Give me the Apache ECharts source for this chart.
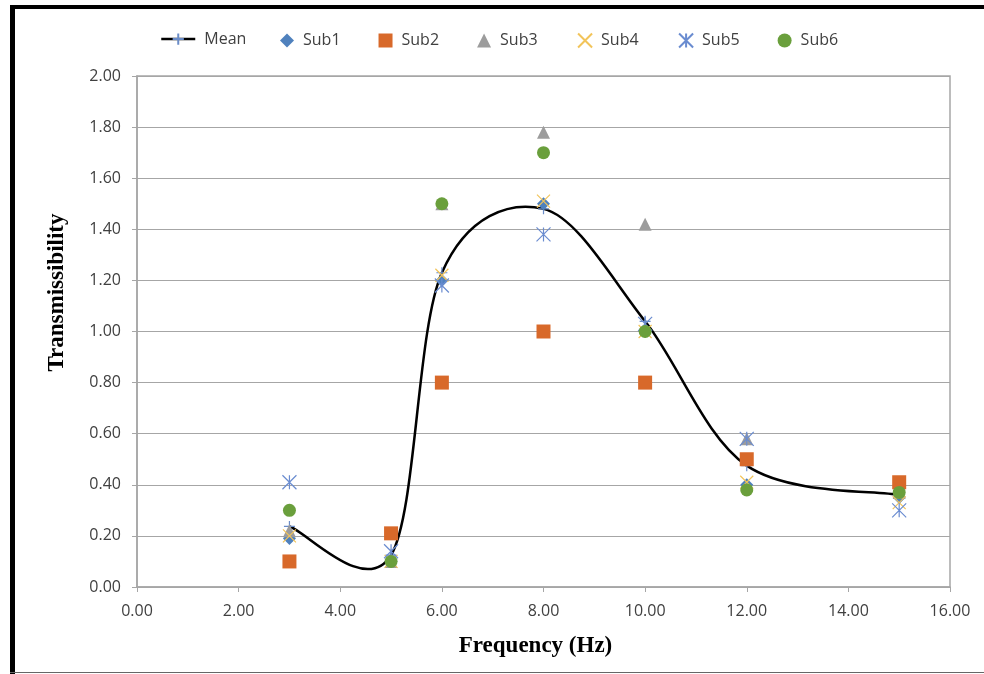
<!DOCTYPE html>
<html>
<head>
<meta charset="utf-8">
<title>Transmissibility vs Frequency</title>
<script src="https://cdn.jsdelivr.net/npm/echarts@6/dist/echarts.min.js"></script>
<style>
  html, body { margin: 0; padding: 0; background: #fff; }
  #main { width: 984px; height: 674px; }
</style>
</head>
<body>
<div id="main"></div>
<script>
// frequencies (Hz) where each subject was measured
const freq = [3, 5, 6, 8, 10, 12, 15];

const mean = [0.237, 0.125, 1.23, 1.48, 1.04, 0.475, 0.36];
const sub1 = [0.19, 0.10, 1.20, 1.50, 1.00, 0.40, 0.35];
const sub2 = [0.10, 0.21, 0.80, 1.00, 0.80, 0.50, 0.41];
const sub3 = [0.22, 0.10, 1.50, 1.78, 1.42, 0.58, 0.37];
const sub4 = [0.20, 0.10, 1.22, 1.51, 1.00, 0.41, 0.33];
const sub5 = [0.41, 0.14, 1.18, 1.38, 1.03, 0.58, 0.30];
const sub6 = [0.30, 0.10, 1.50, 1.70, 1.00, 0.38, 0.37];

const subNames = ['Sub1', 'Sub2', 'Sub3', 'Sub4', 'Sub5', 'Sub6'];

const pair = arr => freq.map((f, i) => [f, arr[i]]);

const PLUS = 'path://M5 0L5 10M0 5L10 5';
const CROSS = 'path://M0 0L10 10M10 0L0 10';
const STAR = 'path://M0 0L10 10M10 0L0 10M5 0L5 10';

function scatter(name, data, symbol, size, color, outline) {
  return {
    name: name,
    type: 'scatter',
    data: pair(data),
    symbol: symbol,
    symbolSize: size,
    itemStyle: outline
      ? { color: 'none', borderColor: color, borderWidth: 1.2, opacity: 1 }
      : { color: color, opacity: 1 },
    z: 4
  };
}

// excel-like smoothed curve: one bezier per segment, control points from neighbours
function renderMeanCurve(params, api) {
  const i = params.dataIndex;
  const n = freq.length;
  if (i >= n - 1) return null;
  const p = j => api.coord([freq[j], mean[j]]);
  const a = p(i), b = p(i + 1);
  const prev = i > 0 ? p(i - 1) : a;
  const next = i + 2 < n ? p(i + 2) : b;
  return {
    type: 'bezierCurve',
    shape: {
      x1: a[0], y1: a[1], x2: b[0], y2: b[1],
      cpx1: a[0] + (b[0] - prev[0]) / 6, cpy1: a[1] + (b[1] - prev[1]) / 6,
      cpx2: b[0] - (next[0] - a[0]) / 6, cpy2: b[1] - (next[1] - a[1]) / 6
    },
    style: { stroke: '#000', lineWidth: 2.5, fill: null }
  };
}

const chart = echarts.init(document.getElementById('main'));

const labelFont = { color: '#404040', fontSize: 16, fontFamily: 'Open Sans, Liberation Sans, sans-serif' };
const legendFont = Object.assign({ padding: [0, 0, 0, 4] }, labelFont);
const nameFont = { color: '#000', fontSize: 23, fontWeight: 'bold', fontFamily: 'Liberation Serif, serif' };

chart.setOption({
  backgroundColor: '#fff',
  animation: false,
  graphic: [
    { type: 'rect', shape: { x: 10, y: 5, width: 5, height: 669 }, style: { fill: '#000' } },
    { type: 'rect', shape: { x: 10, y: 5, width: 974, height: 4 }, style: { fill: '#000' } },
    { type: 'rect', shape: { x: 10, y: 672, width: 974, height: 1 }, style: { fill: '#666' } }
  ],
  legend: [
    {
      top: 26,
      left: 155,
      itemWidth: 34,
      itemHeight: 14,
      textStyle: legendFont,
      data: [{ name: 'Mean', lineStyle: { color: '#000', width: 2.5, opacity: 1 } }]
    },
    {
      top: 26,
      left: 275,
      itemWidth: 14,
      itemHeight: 14,
      itemGap: 38,
      textStyle: legendFont,
      data: subNames
    }
  ],
  grid: {
    left: 137, right: 34, top: 76, bottom: 87,
    show: true, borderColor: '#a6a6a6', borderWidth: 1.5
  },
  xAxis: {
    type: 'value',
    min: 0, max: 16, interval: 2,
    name: 'Frequency (Hz)',
    nameLocation: 'middle',
    nameGap: 48,
    nameTextStyle: Object.assign({ padding: [0, 16, 0, 0] }, nameFont),
    axisLine: { lineStyle: { color: '#a6a6a6', width: 1.5 } },
    axisTick: { show: true, length: 5, lineStyle: { color: '#a6a6a6' } },
    axisLabel: Object.assign({ margin: 16, formatter: v => v.toFixed(2) }, labelFont),
    splitLine: { show: false }
  },
  yAxis: {
    type: 'value',
    min: 0, max: 2, interval: 0.2,
    name: 'Transmissibility',
    nameLocation: 'middle',
    nameGap: 68,
    nameTextStyle: Object.assign({ padding: [0, 0, 0, 78] }, nameFont),
    axisLine: { show: true, lineStyle: { color: '#a6a6a6', width: 1.5 } },
    axisTick: { show: true, length: 5, lineStyle: { color: '#a6a6a6' } },
    axisLabel: Object.assign({ margin: 16, formatter: v => v.toFixed(2) }, labelFont),
    splitLine: { show: true, lineStyle: { color: '#a6a6a6', width: 1.2 } }
  },
  series: [
    {
      name: 'Mean curve',
      type: 'custom',
      data: pair(mean),
      encode: { x: 0, y: 1 },
      renderItem: renderMeanCurve,
      silent: true,
      z: 2
    },
    {
      name: 'Mean',
      type: 'line',
      data: pair(mean),
      symbol: PLUS,
      symbolSize: 11,
      showSymbol: true,
      lineStyle: { width: 0, opacity: 0 },
      itemStyle: { color: 'none', borderColor: '#6a8cc8', borderWidth: 1.2 },
      z: 3
    },
    scatter('Sub1', sub1, 'diamond', 13, '#4f81bd', false),
    scatter('Sub2', sub2, 'rect', 14, '#d8692a', false),
    scatter('Sub3', sub3, 'triangle', 13, '#9c9c9c', false),
    scatter('Sub4', sub4, CROSS, 13, '#f2c45a', true),
    scatter('Sub5', sub5, STAR, 14, '#6a8cd0', true),
    scatter('Sub6', sub6, 'circle', 13, '#6a9f3c', false)
  ]
});
</script>
</body>
</html>
